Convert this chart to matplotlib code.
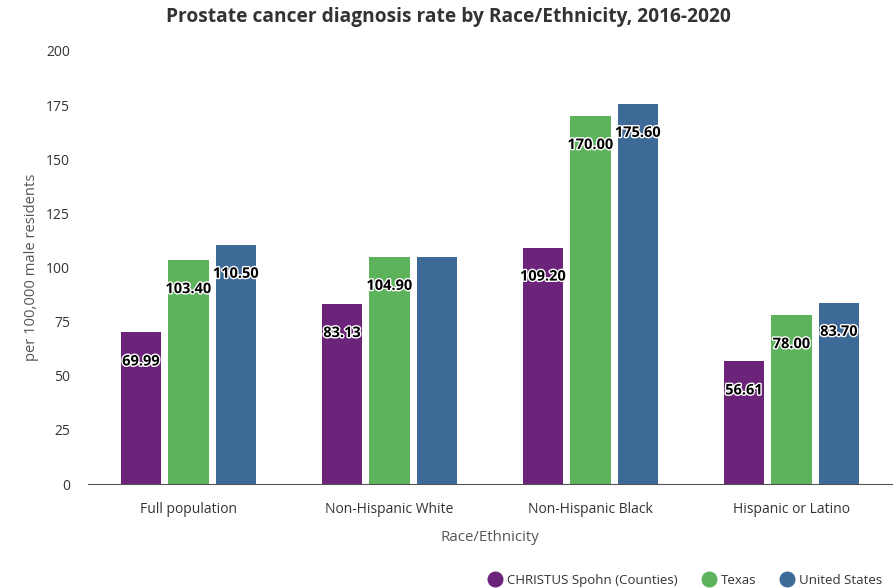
import numpy as np
import matplotlib.pyplot as plt
import matplotlib.patheffects as pe
from matplotlib.lines import Line2D

categories = ['Full population', 'Non-Hispanic White', 'Non-Hispanic Black', 'Hispanic or Latino']
series_names = ['CHRISTUS Spohn (Counties)', 'Texas', 'United States']
christus = [69.99, 83.13, 109.20, 56.61]
texas = [103.40, 104.90, 170.00, 78.00]
united_states = [110.50, 105.00, 175.60, 83.70]
# the reference hides the US label for Non-Hispanic White (overlap)
show_label = [[True, True, True, True],
              [True, True, True, True],
              [True, False, True, True]]
colors = ['#6c237a', '#5cb35c', '#3e6a98']

plt.rcParams['font.family'] = ['Open Sans', 'DejaVu Sans']

fig = plt.figure(figsize=(8.96, 5.88), dpi=100)
ax = fig.add_axes([88 / 896, 1 - 484 / 588, 804 / 896, 433 / 588])

x = np.arange(len(categories))
width = 0.2
step = 0.236
all_series = [christus, texas, united_states]
for i, (vals, col) in enumerate(zip(all_series, colors)):
    pos = x + (i - 1) * step
    ax.bar(pos, vals, width=width, color=col, zorder=2)
    for j, (p, v) in enumerate(zip(pos, vals)):
        if not show_label[i][j]:
            continue
        ax.annotate(f'{v:.2f}', (p, v), xytext=(0, -29), textcoords='offset pixels',
                    ha='center', va='center', fontsize=10.5, fontweight='bold', color='black', zorder=3,
                    path_effects=[pe.withStroke(linewidth=2, foreground='white')])

ax.set_xlim(-0.5, len(categories) - 0.5)
ax.set_ylim(0, 200)
ax.set_yticks(range(0, 201, 25))
ax.set_xticks(x)
ax.set_xticklabels(categories)
ax.tick_params(axis='both', length=0, labelsize=10, labelcolor='#333333')
ax.tick_params(axis='x', pad=13)
ax.tick_params(axis='y', pad=13)
for side in ['top', 'right', 'left']:
    ax.spines[side].set_visible(False)
ax.spines['bottom'].set_color('#555555')

ax.set_xlabel('Race/Ethnicity', fontsize=10.8, color='#555555', labelpad=9)
ax.set_ylabel('per 100,000 male residents', fontsize=10.6, color='#555555', labelpad=5)
fig.suptitle('Prostate cancer diagnosis rate by Race/Ethnicity, 2016-2020',
             x=0.5, y=0.988, fontsize=13.8, fontweight='bold', color='#333333')

handles = [Line2D([0], [0], marker='o', linestyle='', markersize=10.5, color=c) for c in colors]
fig.legend(handles, series_names, loc='lower right', bbox_to_anchor=(0.998, -0.018), ncol=3,
           frameon=False, fontsize=9.5, handlelength=1.2, handletextpad=0.3, columnspacing=1.75,
           labelcolor='#333333')

fig.savefig('out.png', dpi=100)
